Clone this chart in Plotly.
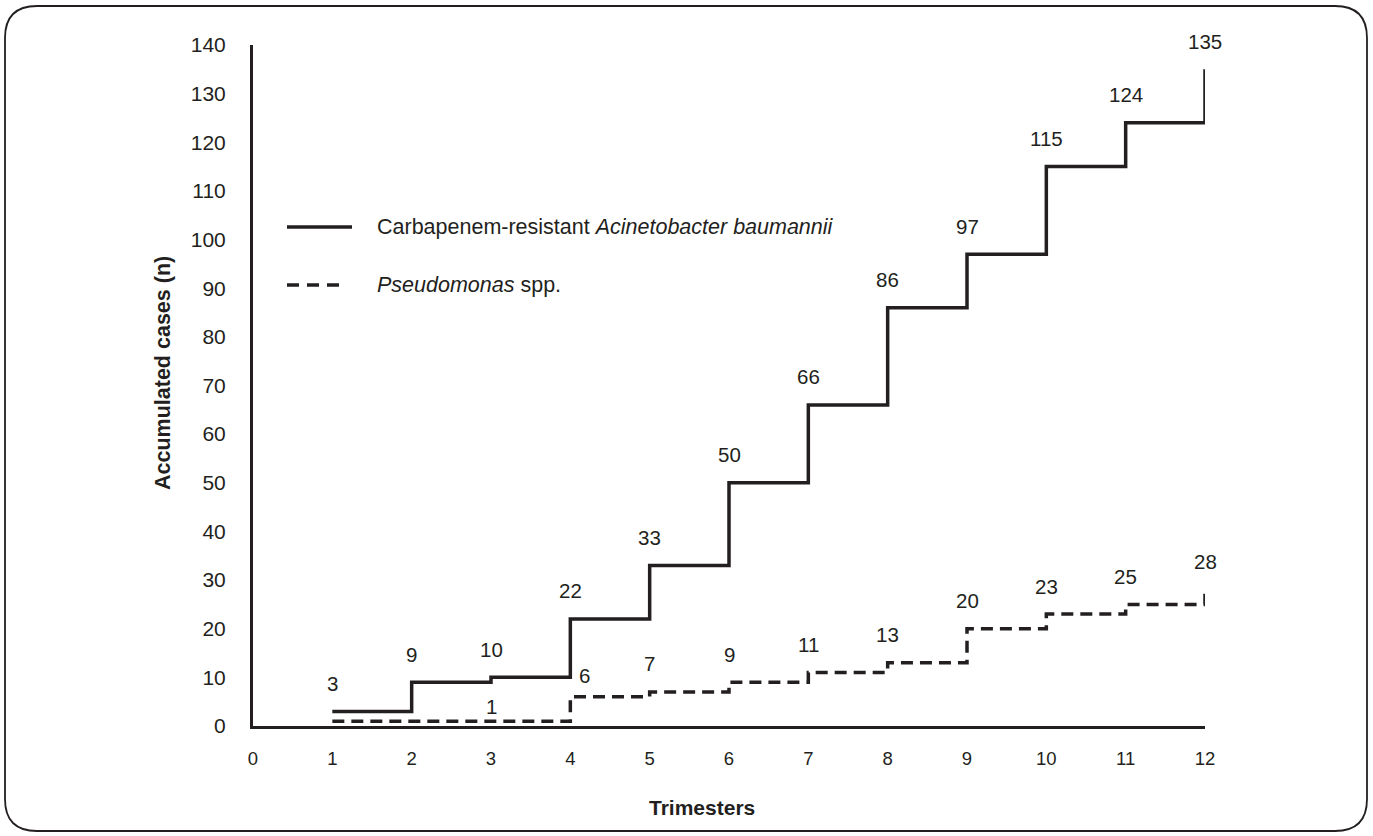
import plotly.graph_objects as go

# ---- data ----
trimesters = list(range(1, 13))
acinetobacter = [3, 9, 10, 22, 33, 50, 66, 86, 97, 115, 124, 135]
pseudomonas = [1, 1, 1, 6, 7, 9, 11, 13, 20, 23, 25, 28]
pseudomonas_labels = ["", "", "1", "6", "7", "9", "11", "13", "20", "23", "25", "28"]
x_ticks = list(range(0, 13))
y_ticks = list(range(0, 141, 10))
series_names = ["Carbapenem-resistant <i>Acinetobacter baumannii</i>", "<i>Pseudomonas</i> spp."]
x_title = "Trimesters"
y_title = "Accumulated cases (n)"

# ---- layout geometry (pixels) ----
W, H = 1373, 836
PL, PR, PT, PB = 253, 1205, 45, 726   # plot area edges
PW, PH = PR - PL, PB - PT
INK = "#231f20"
FONT = "Liberation Sans, Arial, sans-serif"


def xp(px):
    return (px - PL) / PW


def yp(py):
    return (PB - py) / PH


fig = go.Figure()
fig.add_trace(go.Scatter(x=trimesters, y=acinetobacter, mode="lines", line_shape="hv",
                         line=dict(color=INK, width=3.5), name=series_names[0],
                         showlegend=False, cliponaxis=False))
fig.add_trace(go.Scatter(x=trimesters, y=pseudomonas, mode="lines", line_shape="hv",
                         line=dict(color=INK, width=3.5, dash="12px,7px"), name=series_names[1],
                         showlegend=False, cliponaxis=False))

annotations = []
for x, v in zip(trimesters, acinetobacter):
    annotations.append(dict(x=x, y=v, text=str(v), showarrow=False, yshift=28,
                            font=dict(family=FONT, size=20.5, color=INK)))
nudges = {3: (0, 15), 4: (14, 21)}
for x, v, t in zip(trimesters, pseudomonas, pseudomonas_labels):
    if not t:
        continue
    dx, dy = nudges.get(x, (0, 28))
    annotations.append(dict(x=x, y=v, text=t, showarrow=False, xshift=dx, yshift=dy,
                            font=dict(family=FONT, size=20.5, color=INK)))

# legend (manual)
shapes = []
shapes.append(dict(type="line", xref="paper", yref="paper", x0=xp(287), x1=xp(352),
                   y0=yp(227), y1=yp(227), line=dict(color=INK, width=3.5)))
shapes.append(dict(type="line", xref="paper", yref="paper", x0=xp(287), x1=xp(340),
                   y0=yp(285), y1=yp(285), line=dict(color=INK, width=3.5, dash="12px,8px")))
for name, py in zip(series_names, [227, 285]):
    annotations.append(dict(xref="paper", yref="paper", x=xp(375), y=yp(py), text=name,
                            showarrow=False, xanchor="left", yanchor="middle",
                            font=dict(family=FONT, size=21.5, color=INK)))

# axis titles
annotations.append(dict(xref="paper", yref="paper", x=xp(702), y=yp(807),
                        text=f"<b>{x_title}</b>", showarrow=False,
                        xanchor="center", yanchor="middle",
                        font=dict(family=FONT, size=21, color=INK)))
annotations.append(dict(xref="paper", yref="paper", x=xp(163), y=yp(373),
                        text=f"<b>{y_title}</b>", showarrow=False, textangle=-90,
                        xanchor="center", yanchor="middle",
                        font=dict(family=FONT, size=21.5, color=INK)))

# rounded frame
fx0, fy0, fx1, fy1, r = 5, 6, 1367, 831, 32
path = (f"M {xp(fx0 + r)},{yp(fy0)} L {xp(fx1 - r)},{yp(fy0)} "
        f"Q {xp(fx1)},{yp(fy0)} {xp(fx1)},{yp(fy0 + r)} "
        f"L {xp(fx1)},{yp(fy1 - r)} Q {xp(fx1)},{yp(fy1)} {xp(fx1 - r)},{yp(fy1)} "
        f"L {xp(fx0 + r)},{yp(fy1)} Q {xp(fx0)},{yp(fy1)} {xp(fx0)},{yp(fy1 - r)} "
        f"L {xp(fx0)},{yp(fy0 + r)} Q {xp(fx0)},{yp(fy0)} {xp(fx0 + r)},{yp(fy0)} Z")
shapes.append(dict(type="path", xref="paper", yref="paper", path=path,
                   line=dict(color=INK, width=1.8)))

fig.update_layout(
    width=W, height=H,
    margin=dict(l=PL, r=W - PR, t=PT, b=H - PB, pad=0),
    paper_bgcolor="white", plot_bgcolor="white",
    font=dict(family=FONT, size=18, color=INK),
    showlegend=False,
    annotations=annotations,
    shapes=shapes,
    xaxis=dict(range=[0, 12], tickvals=x_ticks, ticktext=[str(t) for t in x_ticks],
               showgrid=False, zeroline=False, showline=True, linecolor=INK, linewidth=3,
               ticks="outside", ticklen=14, tickcolor="rgba(0,0,0,0)",
               tickfont=dict(family=FONT, size=18.5, color=INK)),
    yaxis=dict(range=[0, 140], tickvals=y_ticks, ticktext=[str(t) for t in y_ticks],
               showgrid=False, zeroline=False, showline=True, linecolor=INK, linewidth=3,
               ticks="outside", ticklen=20, tickcolor="rgba(0,0,0,0)",
               tickfont=dict(family=FONT, size=21, color=INK)),
)

fig.write_html("out.html", config={"displayModeBar": False},
               post_script="document.body.style.margin='0';")
